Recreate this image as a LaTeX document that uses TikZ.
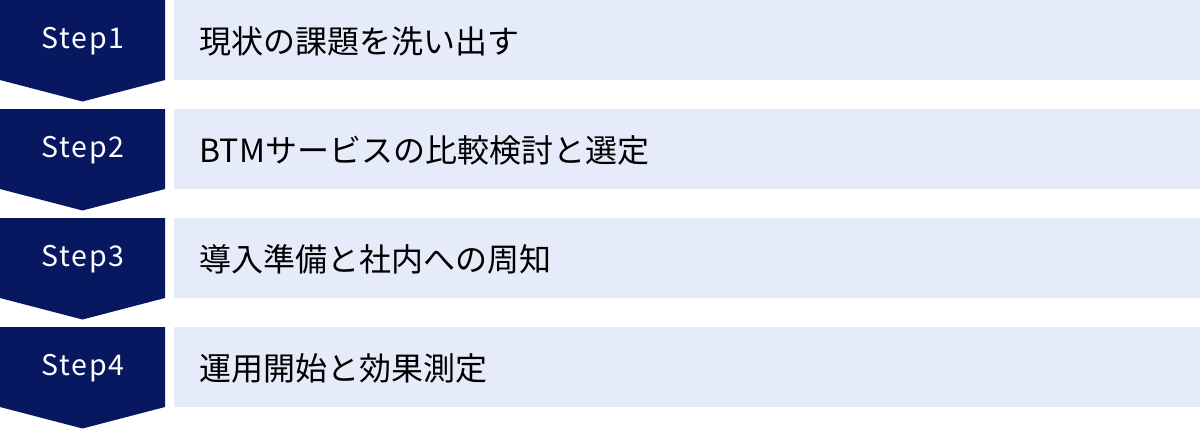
\documentclass[tikz,border=0pt]{standalone}
\usepackage{fontspec}
\newfontfamily\jp{Noto Sans CJK JP}
\newfontfamily\stepfont[LetterSpace=6]{Noto Sans CJK JP}
\definecolor{navy}{RGB}{8,24,96}
\definecolor{lightbg}{RGB}{229,235,249}
\tikzset{
  arrowshape/.style={fill=navy},
  bandshape/.style={fill=lightbg},
  steplabel/.style={text=white,font=\stepfont\fontsize{28.5}{32}\selectfont,inner sep=0pt,anchor=center},
  tasklabel/.style={text=black,font=\jp\fontsize{32}{36}\selectfont,inner sep=0pt,anchor=west},
}
\begin{document}
\begin{tikzpicture}[x=1pt,y=-1pt]
\useasboundingbox (0,0) rectangle (1200,429);
\foreach \i/\t in {0/現状の課題を洗い出す,1/BTMサービスの比較検討と選定,2/導入準備と社内への周知,3/運用開始と効果測定}{
  \pgfmathsetmacro{\T}{109*\i}
  \fill[arrowshape] (0,\T) -- (165,\T) -- (165,\T+80) -- (82.5,\T+101.5) -- (0,\T+80) -- cycle;
  \fill[bandshape] (174,\T) rectangle (1200,\T+80);
  \pgfmathtruncatemacro{\n}{\i+1}
  \node[steplabel] (step\n) at (83,\T+41) {Step\n};
  \node[tasklabel] (task\n) at (199.5,\T+41) {\t};
}
\end{tikzpicture}
\end{document}
